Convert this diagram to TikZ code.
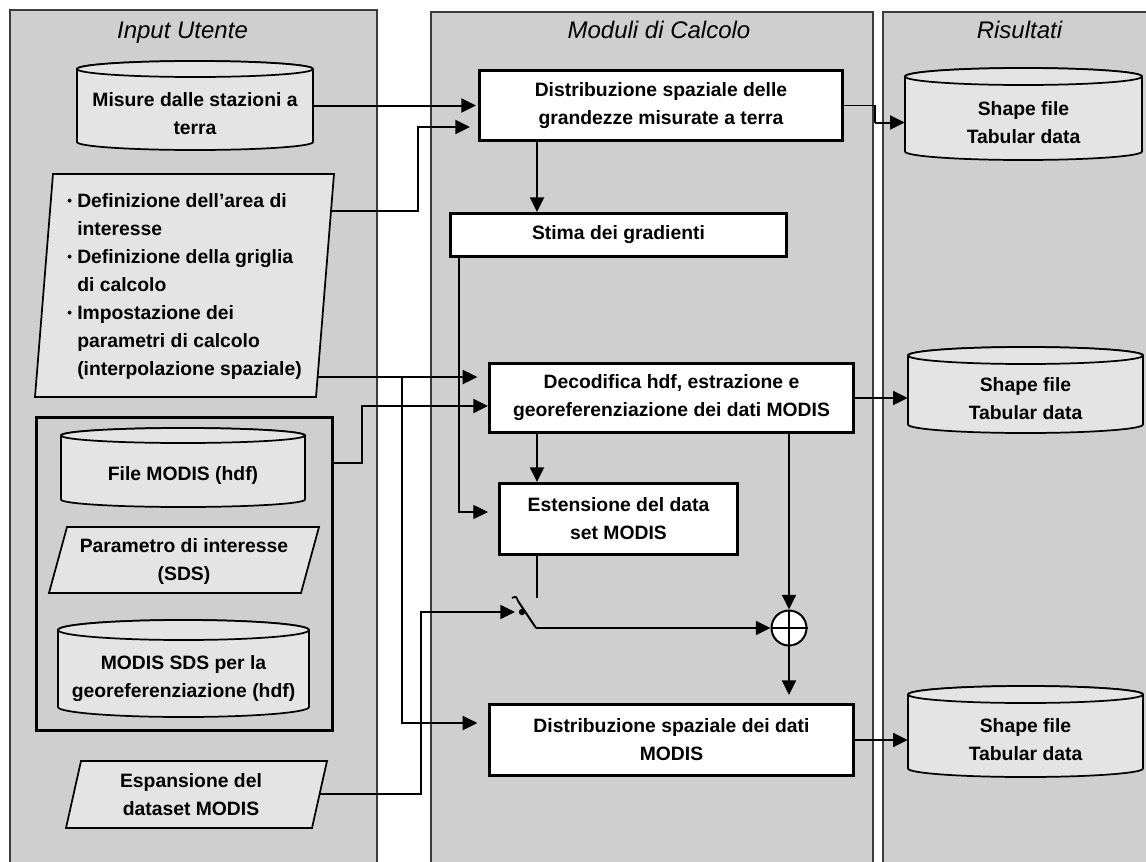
\documentclass[tikz,border=0pt]{standalone}
\usepackage{fontspec}
\setmainfont{Liberation Sans}
\usetikzlibrary{arrows.meta}
\definecolor{panel}{HTML}{CFCFCF}
\definecolor{shp}{HTML}{E4E4E4}
\definecolor{pborder}{HTML}{3C3C3C}
% cylinder: name, L, T, R, B, ry, text (pixel coords, y downwards)
\newcommand\cylnode[7]{%
  \filldraw[shapeline] (#2,{-(#3+#6)}) -- (#2,{-(#5-#6)})
    arc[start angle=180,end angle=360,x radius={(#4-#2)/2},y radius=#6]
    -- (#4,{-(#3+#6)})
    arc[start angle=0,end angle=180,x radius={(#4-#2)/2},y radius=#6] -- cycle;
  \draw[shapeline] ({(#2+#4)/2},{-(#3+#6)}) ellipse[x radius={(#4-#2)/2},y radius=#6];
  \node[inner sep=0pt,minimum width={(#4-#2)*0.75pt},minimum height={(#5-#3)*0.75pt}] (#1) at ({(#2+#4)/2},{-(#3+#5)/2}) {};
  \node[txt] (#1-t) at ({(#2+#4)/2},{-(#3+2*#6+#5)/2}) {#7};
}
\newcommand\bul{\makebox[7.5pt][l]{\raisebox{1.5pt}{\fontsize{10}{10}\selectfont •}}}
\begin{document}
\begin{tikzpicture}[x=0.75pt,y=0.75pt,
  panelbox/.style={fill=panel,draw=pborder,line width=0.9pt},
  ttl/.style={font=\fontsize{18}{21}\selectfont\itshape,anchor=base,inner sep=0pt},
  txt/.style={font=\fontsize{14.5}{21}\selectfont\bfseries,align=center,inner sep=0pt},
  proc/.style 2 args={draw=black,fill=white,line width=2.2pt,inner sep=0pt,txt,
     minimum width={#1*0.75pt},minimum height={#2*0.75pt}},
  shapeline/.style={draw=black,fill=shp,line width=1.3pt},
  grpbox/.style={draw=black,line width=2.2pt,inner sep=0pt},
  conn/.style={line width=1.5pt,-{Triangle[length=11pt,width=10.5pt]}},
  thinconn/.style={line width=0.9pt,-{Triangle[length=11pt,width=10.5pt]}},
  plain/.style={line width=1.5pt},
  thinline/.style={line width=0.9pt},
]
\useasboundingbox (0,0) rectangle (1146,-861);
\fill[white] (0,0) rectangle (1146,-861);
\clip (0,0) rectangle (1146,-861);

% panels
\filldraw[panelbox] (10,-10) rectangle (377,-875);
\filldraw[panelbox] (431,-12) rectangle (873,-875);
\filldraw[panelbox] (883,-12) rectangle (1160,-875);
\node[ttl] (t1) at (182.5,-38) {Input Utente};
\node[ttl] (t2) at (659,-38) {Moduli di Calcolo};
\node[ttl] (t3) at (1019.5,-38) {Risultati};

% input column
\cylnode{misure}{77}{61}{313}{150}{8}{Misure dalle stazioni a\\terra}

\filldraw[shapeline] (53,-174) -- (334,-174) -- (316,-397) -- (35,-397) -- cycle;
\coordinate (def1) at (331,-211);
\coordinate (def2) at (317.6,-377);
\node[txt,align=left,anchor=west] (defin) at (67,-286) {%
\bul Definizione dell’area di\\
\hspace*{7.5pt}interesse\\
\bul Definizione della griglia\\
\hspace*{7.5pt}di calcolo\\
\bul Impostazione dei\\
\hspace*{7.5pt}parametri di calcolo\\
\hspace*{7.5pt}(interpolazione spaziale)};

\node[grpbox,minimum width={296*0.75pt},minimum height={313*0.75pt}] (grp) at (184.5,-574) {};
\cylnode{filemodis}{61}{428}{305}{507}{7.5}{File MODIS (hdf)}
\filldraw[shapeline] (67,-527) -- (319,-527) -- (301,-593) -- (49,-593) -- cycle;
\node[txt] (param) at (184,-561) {Parametro di interesse\\(SDS)};
\cylnode{sdsgeo}{58}{620}{309}{717}{10}{MODIS SDS per la\\georeferenziazione (hdf)}
\coordinate (g1) at (334,-463);

\filldraw[shapeline] (81,-761) -- (327,-761) -- (312,-828) -- (66,-828) -- cycle;
\node[txt] (espans) at (191,-795) {Espansione del\\dataset MODIS};
\coordinate (esp1) at (319.6,-794);

% process column
\node[proc={363}{70}] (A) at (661,-105.5) {Distribuzione spaziale delle\\grandezze misurate a terra};
\node[proc={336}{43}] (B) at (618.5,-235) {Stima dei gradienti};
\node[proc={364}{69}] (C) at (671.5,-398) {Decodifica hdf, estrazione e\\georeferenziazione dei dati MODIS};
\node[proc={238}{71}] (D) at (618.5,-519) {Estensione del data\\set MODIS};
\node[proc={364}{71}] (E) at (671.5,-740) {Distribuzione spaziale dei dati\\MODIS};

\node[circle,draw=black,fill=white,line width=1.5pt,minimum size={35*0.75pt},inner sep=0pt] (plus) at (789,-628) {};
\draw[plain] (plus.north) -- (plus.south);
\draw[plain] (plus.west) -- (plus.east);

% results column
\cylnode{r1}{905}{68}{1142}{160}{8.5}{Shape file\\Tabular data}
\cylnode{r2}{908}{347}{1143}{433}{8.5}{Shape file\\Tabular data}
\cylnode{r3}{908}{686}{1143}{777}{8.5}{Shape file\\Tabular data}

% switch
\coordinate (swin) at (515,-612);
\coordinate (swtop) at (537,-598);
\coordinate (swout) at (536,-628);
\fill (522,-612) circle[radius=3.2];
\draw[plain] (518,-601) -- (swout);
\draw[line width=1.3pt] (512,-598) .. controls (516,-596) .. (518,-601);
\draw[plain] (swtop |- D.south) -- (swtop);

% connectors
\draw[conn,shorten >=1.5pt] (misure.east) -- (misure.east -| A.west);
\draw[conn,shorten >=6pt] (def1) -| (418,-127) -- (A.west |- 0,-127);
\draw[conn] (A.south -| 537,0) -- (B.north -| 537,0);
\draw[thinconn,shorten >=7.5pt] (B.south -| 459,0) |- (D.west |- 0,-512);
\coordinate (j1) at (402,-377);
\draw[conn,shorten >=8pt] (def2) -- (C.west |- 0,-377);
\draw[conn,shorten >=8pt] (j1) |- (E.west |- 0,-723);
\draw[conn] (g1) -| (362,-406) -- (C.west |- 0,-406);
\draw[conn] (C.south -| 537,0) -- (D.north -| 537,0);
\draw[conn] (esp1) -| (421,-612) -- (swin);
\draw[conn] (swout) -- (plus.west);
\draw[conn] (plus |- C.south) -- (plus.north);
\draw[conn,shorten >=6pt] (plus.south) -- (plus |- E.north);
\draw[thinline] (A.east) -| (875,-122.5);
\draw[conn] (875,-122.5) -- (r1.west |- r1-t);
\draw[conn] (C.east) -- (C.east -| r2.west);
\draw[conn] (E.east) -- (E.east -| r3.west);
\end{tikzpicture}
\end{document}
